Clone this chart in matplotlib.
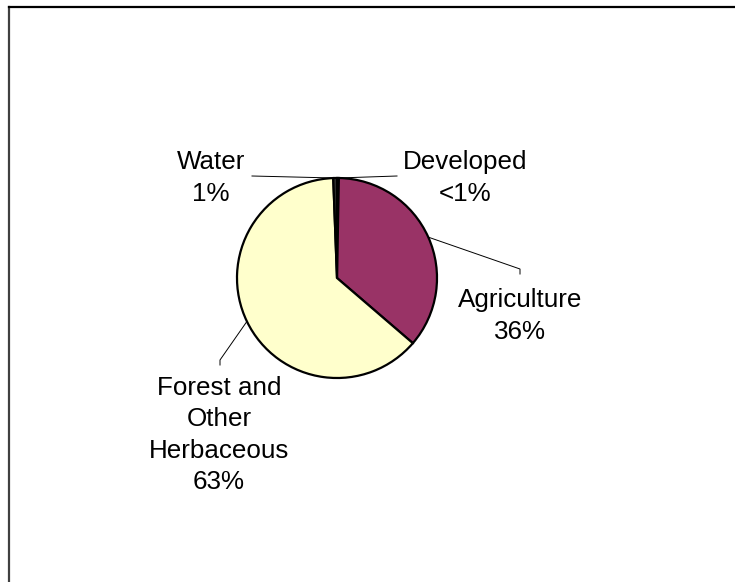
import matplotlib.pyplot as plt
import numpy as np

# Land use shares (percent)
categories = ["Developed", "Agriculture", "Forest and\nOther\nHerbaceous", "Water"]
values = [0.3, 36.0, 63.1, 0.6]
pct_labels = ["<1%", "36%", "63%", "1%"]
colors = ["#1a1a1a", "#993366", "#FFFFCC", "#333333"]

W, H = 735, 582
fig = plt.figure(figsize=(W / 100, H / 100), dpi=100)
ax = fig.add_axes([0, 0, 1, 1])

cx, cy, r = 337, H - 278, 100
wedges, _ = ax.pie(values, colors=colors, startangle=90, counterclock=False,
                   center=(cx, cy), radius=r, frame=True,
                   wedgeprops=dict(edgecolor="black", linewidth=1.6))
ax.set_xlim(0, W)
ax.set_ylim(0, H)
ax.axis("off")

# label block centres and leader line bends (pixel coords, y from top)
label_pos = [(465, 178), (520, 316), (219, 435), (211, 178)]
leader_pts = [[(397, 176)], [(520, 269), (520, 274)],
              [(220, 360), (220, 365)], [(252, 176)]]

for w, name, pct, (lx, ly), pts in zip(wedges, categories, pct_labels, label_pos, leader_pts):
    ang = np.deg2rad((w.theta1 + w.theta2) / 2)
    ex, ey = cx + r * np.cos(ang), cy + r * np.sin(ang)
    xs = [ex] + [p[0] for p in pts]
    ys = [ey] + [H - p[1] for p in pts]
    ax.plot(xs, ys, color="black", linewidth=0.7, zorder=0.5)
    ax.text(lx, H - ly, name + "\n" + pct, ha="center", va="center",
            fontsize=18.7, family="Liberation Sans", linespacing=1.38)

# chart area frame (left and top edges only visible)
fig.add_artist(plt.Line2D([9 / W, 9 / W], [0, 1 - 7 / H], color="#404040", linewidth=1.6))
fig.add_artist(plt.Line2D([9 / W, 1], [1 - 7 / H, 1 - 7 / H], color="black", linewidth=1.6))

fig.savefig("out.png", dpi=100)
